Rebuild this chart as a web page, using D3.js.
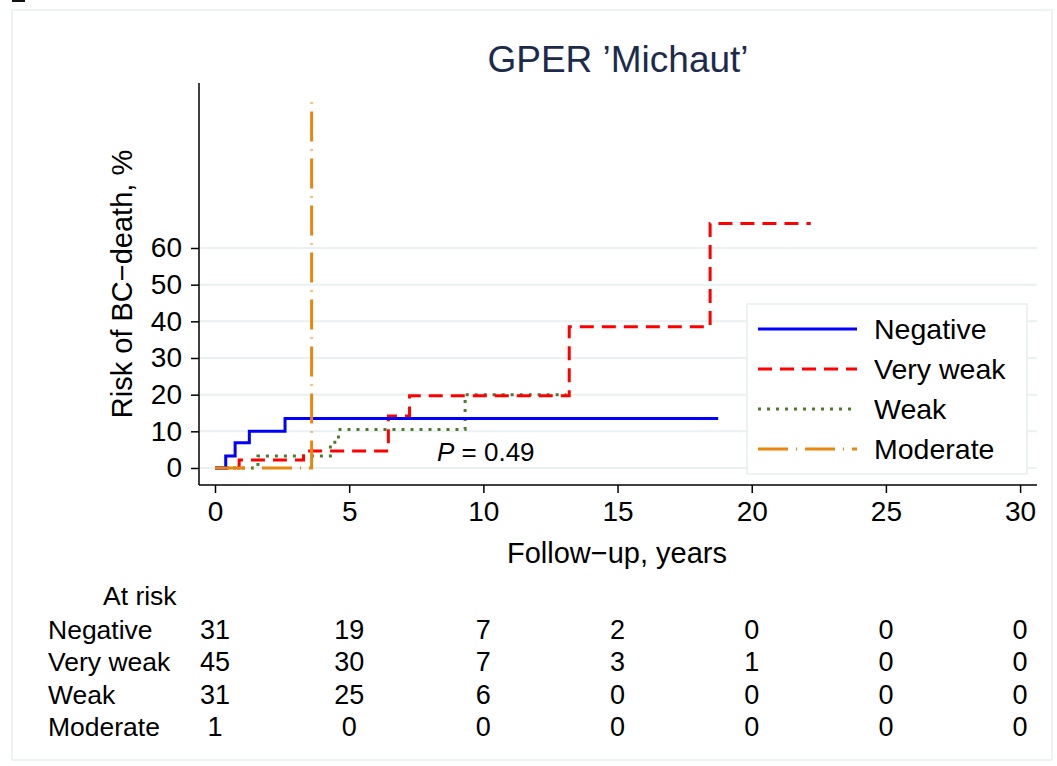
<!DOCTYPE html>
<html><head><meta charset="utf-8">
<script src="https://cdn.jsdelivr.net/npm/d3@7"></script>
<style>body{margin:0;background:#fff}svg{display:block}text{font-family:"Liberation Sans",Arial,Helvetica,sans-serif}</style>
</head><body>
<script>
const title = "GPER \u2019Michaut\u2019";
const seriesNames = ["Negative", "Very weak", "Weak", "Moderate"];
const negTimes = [0, 0.4, 0.75, 1.28, 2.61, 18.75];
const negVals  = [0, 3.3, 6.9, 10.0, 13.5, 13.5];
const vwTimes = [0, 0.9, 3.3, 6.46, 7.25, 13.2, 18.45, 22.2];
const vwVals  = [0, 2.2, 4.6, 14.2, 19.7, 38.5, 66.7, 66.7];
const weakTimes = [0, 1.6, 4.3, 4.6, 9.32, 13.1];
const weakVals  = [0, 3.3, 7.0, 10.5, 20.0, 20.0];
const modTimes = [0, 3.6];
const modVals  = [0, 100];
const xTicks = [0, 5, 10, 15, 20, 25, 30];
const yTicks = [0, 10, 20, 30, 40, 50, 60];
const atRisk = [
  [31, 19, 7, 2, 0, 0, 0],
  [45, 30, 7, 3, 1, 0, 0],
  [31, 25, 6, 0, 0, 0, 0],
  [1, 0, 0, 0, 0, 0, 0]
];
const pText = "0.49";

const colors = ["#0000ff", "#ff0000", "#4e7a2c", "#e8870e"];
const dashes = [null, "14,8", "3,6", "30,8,1,8"];

const W = 1057, H = 766;
const svg = d3.select("body").append("svg").attr("width", W).attr("height", H);
svg.append("rect").attr("x", 12).attr("y", 10).attr("width", 1040).attr("height", 750)
  .attr("fill", "#fff").attr("stroke", "#e8eef0").attr("stroke-width", 1.5);
svg.append("rect").attr("x", 12).attr("y", 0).attr("width", 13).attr("height", 2).attr("fill", "#111");

const x = d3.scaleLinear().domain([-0.596, 30.63]).range([199, 1037]);
const y = d3.scaleLinear().domain([-4.64, 105]).range([485, 83]);

// gridlines
svg.append("g").selectAll("line").data(yTicks).join("line")
  .attr("x1", x.range()[0]).attr("x2", x.range()[1])
  .attr("y1", d => y(d)).attr("y2", d => y(d))
  .attr("stroke", "#e9f1f3").attr("stroke-width", 2);

// axes
const yAxis = svg.append("g").attr("transform", `translate(${x.range()[0]},0)`)
  .call(d3.axisLeft(y).tickValues(yTicks).tickSize(8).tickPadding(9));
const xAxis = svg.append("g").attr("transform", `translate(0,${y.range()[0]})`)
  .call(d3.axisBottom(x).tickValues(xTicks).tickSize(8).tickPadding(8));
[xAxis, yAxis].forEach(g => {
  g.select(".domain").attr("stroke", "#000").attr("stroke-width", 1.5);
  g.selectAll(".tick line").attr("stroke", "#000").attr("stroke-width", 1.5);
  g.selectAll(".tick text").attr("font-size", 28).attr("fill", "#000")
    .attr("font-family", "'Liberation Sans',Arial,sans-serif");
});
yAxis.select(".domain").attr("d", `M0,${y.range()[1]}V${y.range()[0]}`);
xAxis.select(".domain").attr("d", `M${x.range()[0]},0H${x.range()[1]}`);

// curves
const series = [[negTimes, negVals], [vwTimes, vwVals], [weakTimes, weakVals], [modTimes, modVals]];
const line = d3.line().x(d => x(d[0])).y(d => y(d[1])).curve(d3.curveStepAfter);
const order = [2, 1, 0, 3];
order.forEach(i => {
  const [t, v] = series[i];
  const pts = t.map((tt, k) => [tt, v[k]]);
  svg.append("path").attr("d", line(pts)).attr("fill", "none")
    .attr("stroke", colors[i]).attr("stroke-width", 3)
    .attr("stroke-dasharray", dashes[i]);
});

// P value
const pt = svg.append("text").attr("x", 437).attr("y", 461).attr("font-size", 26).attr("fill", "#000");
pt.append("tspan").attr("font-style", "italic").text("P");
pt.append("tspan").text(" = " + pText);

// title
svg.append("text").attr("x", 618).attr("y", 72).attr("text-anchor", "middle")
  .attr("font-size", 37).attr("fill", "#1c2b4d").text(title);

// axis labels
svg.append("text").attr("transform", `translate(132,${(y.range()[0] + y.range()[1]) / 2}) rotate(-90)`)
  .attr("text-anchor", "middle").attr("font-size", 29).attr("fill", "#000").text("Risk of BC\u2212death, %");
svg.append("text").attr("x", 617).attr("y", 563).attr("text-anchor", "middle")
  .attr("font-size", 29).attr("fill", "#000").text("Follow\u2212up, years");

// legend
const lg = svg.append("g");
lg.append("rect").attr("x", 747).attr("y", 304).attr("width", 280).attr("height", 170)
  .attr("fill", "#fff").attr("stroke", "#e6eef0").attr("stroke-width", 1.5);
seriesNames.forEach((n, i) => {
  const yy = 329 + i * 40;
  lg.append("line").attr("x1", 758).attr("x2", 857).attr("y1", yy).attr("y2", yy)
    .attr("stroke", colors[i]).attr("stroke-width", 3).attr("stroke-dasharray", dashes[i]);
  lg.append("text").attr("x", 874).attr("y", yy + 10).attr("font-size", 28.5).attr("fill", "#000").text(n);
});

// at risk table
svg.append("text").attr("x", 103).attr("y", 605).attr("font-size", 26.5).attr("fill", "#000").text("At risk");
const rowY = [639, 671, 704, 736];
seriesNames.forEach((n, i) => {
  svg.append("text").attr("x", 48).attr("y", rowY[i]).attr("font-size", 26.5).attr("fill", "#000").text(n);
  atRisk[i].forEach((v, k) => {
    svg.append("text").attr("x", x(xTicks[k])).attr("y", rowY[i]).attr("text-anchor", "middle")
      .attr("font-size", 27).attr("fill", "#000").text(v);
  });
});
</script>
</body></html>
